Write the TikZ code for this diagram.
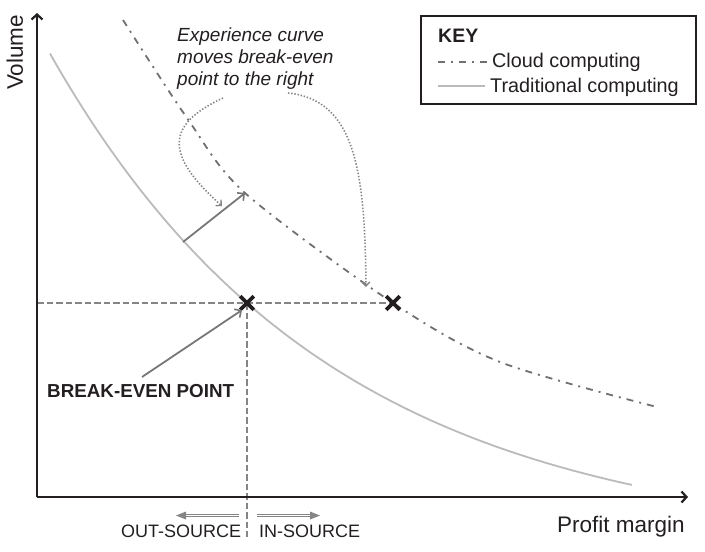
\documentclass[tikz,border=0pt]{standalone}
\usepackage{fontspec}
\setmainfont{Liberation Sans}
\usetikzlibrary{arrows.meta,shapes.misc}
\definecolor{ink}{HTML}{231F20}
\definecolor{tradgray}{HTML}{BBBBBB}
\definecolor{cloudgray}{HTML}{707070}
\definecolor{guidegray}{HTML}{858585}
\definecolor{arrowgray}{HTML}{777777}
\begin{document}
\begin{tikzpicture}[x=1pt,y=-1pt,
  axis/.style={draw=ink, line width=2.2pt, -{Straight Barb[length=5pt,width=11pt,line width=2.2pt]}},
  trad/.style={draw=tradgray, line width=1.8pt},
  cloud/.style={draw=cloudgray, line width=1.8pt, dash pattern=on 7pt off 6pt on 2pt off 6pt},
  guide/.style={draw=guidegray, line width=1.6pt, dash pattern=on 6.5pt off 3pt},
  dots/.style={draw=guidegray, line width=1.6pt, dash pattern=on 1.4pt off 1.8pt, -{Straight Barb[length=4pt,width=8pt,line width=1.4pt]}},
  pointer/.style={draw=arrowgray, line width=1.8pt, -{Straight Barb[length=5pt,width=10pt,line width=1.6pt]}},
  xmark/.style={cross out, draw=ink, line width=3.6pt, minimum size=10pt, inner sep=0pt},
  lbl/.style={inner sep=0pt, text=ink, font=\fontsize{19}{22}\selectfont},
  keylbl/.style={inner sep=0pt, text=ink, font=\fontsize{19.8}{23}\selectfont},
  axislbl/.style={inner sep=0pt, text=ink, font=\fontsize{22.5}{26}\selectfont},
  srclbl/.style={inner sep=0pt, text=ink, font=\fontsize{18}{21}\selectfont},
  dbl/.style={draw=guidegray, line width=0.9pt, double=white, double distance=1.2pt}
]
\useasboundingbox (0,0) rectangle (705,552);

% coordinates
\coordinate (origin) at (37,497);
\coordinate (ytop) at (37,13);
\coordinate (xend) at (688,497);
\coordinate (be1) at (247,303);
\coordinate (be2) at (393,303);
\coordinate (hleft) at (37,303);
\coordinate (vbot) at (247,537);
\coordinate (tradA) at (183,242);
\coordinate (cloudA) at (245,193);
\coordinate (beStart) at (142,377);
\coordinate (beTip) at (242,310);

% curves
\draw[trad] plot[domain=50:632, samples=90] (\x, {546-589*exp(-0.00358*\x)});
\draw[cloud] plot[smooth] coordinates {(123,20) (187,118) (245,193) (393,303) (500,362) (657,407)};

% guides
\draw[guide] (hleft) -- (be2);
\draw[guide] (be1) -- (vbot);

% axes
\draw[axis] (origin) -- (ytop);
\draw[axis] (origin) -- (xend);

% break-even marks
\node[xmark] (x1) at (be1) {};
\node[xmark] (x2) at (be2) {};

% arrows
\draw[pointer] (tradA) -- (cloudA);
\draw[pointer] (beStart) -- (beTip);

% dotted arrows
\coordinate (d1s) at (223,98);
\coordinate (d1e) at (222,206);
\coordinate (d2s) at (288,93);
\coordinate (d2e) at (366,287);
\draw[dots] (d1s) .. controls (165,125) and (165,155) .. (d1e);
\draw[dots] (d2s) .. controls (355,100) and (365,170) .. (d2e);

% labels
\node[axislbl, rotate=90, anchor=base west] (vol) at (23,90) {Volume};
\node[axislbl, anchor=base west] (pm) at (557,532) {Profit margin};
\node[lbl, anchor=base west, font=\fontsize{19}{22}\selectfont\itshape] (exp1) at (177,41) {Experience curve};
\node[lbl, anchor=base west, font=\fontsize{19}{22}\selectfont\itshape] (exp2) at (177,63) {moves break-even};
\node[lbl, anchor=base west, font=\fontsize{19}{22}\selectfont\itshape] (exp3) at (177,85) {point to the right};
\node[lbl, anchor=base west, font=\fontsize{18.8}{22}\selectfont\bfseries] (bep) at (47,397) {BREAK-EVEN POINT};

% key
\node[draw=ink, line width=1.6pt, minimum width=275pt, minimum height=88pt, anchor=north west, inner sep=0pt] (keybox) at (420,15) {};
\node[keylbl, anchor=base west, font=\fontsize{19.5}{23}\selectfont\bfseries] (keyt) at (438,42) {KEY};
\coordinate (kc1) at (438,62);
\coordinate (kc2) at (488,62);
\coordinate (kt1) at (438,86);
\coordinate (kt2) at (485,86);
\draw[cloud] (kc1) -- (kc2);
\draw[trad] (kt1) -- (kt2);
\node[keylbl, anchor=base west] (kcl) at (492,67) {Cloud computing};
\node[keylbl, anchor=base west] (ktr) at (490,92) {Traditional computing};

% out/in source
\coordinate (oA) at (239,515.5);
\coordinate (oB) at (184,515.5);
\coordinate (iA) at (257,515.5);
\coordinate (iB) at (312,515.5);
\draw[dbl] (oA) -- (oB);
\draw[dbl] (iA) -- (iB);
\fill[guidegray] (176,515.5) -- (186,511.5) -- (186,519.5) -- cycle;
\fill[guidegray] (320,515.5) -- (310,511.5) -- (310,519.5) -- cycle;
\node[srclbl, anchor=base west] (out) at (121,537) {OUT-SOURCE};
\node[srclbl, anchor=base west] (in) at (259,537) {IN-SOURCE};
\end{tikzpicture}
\end{document}
